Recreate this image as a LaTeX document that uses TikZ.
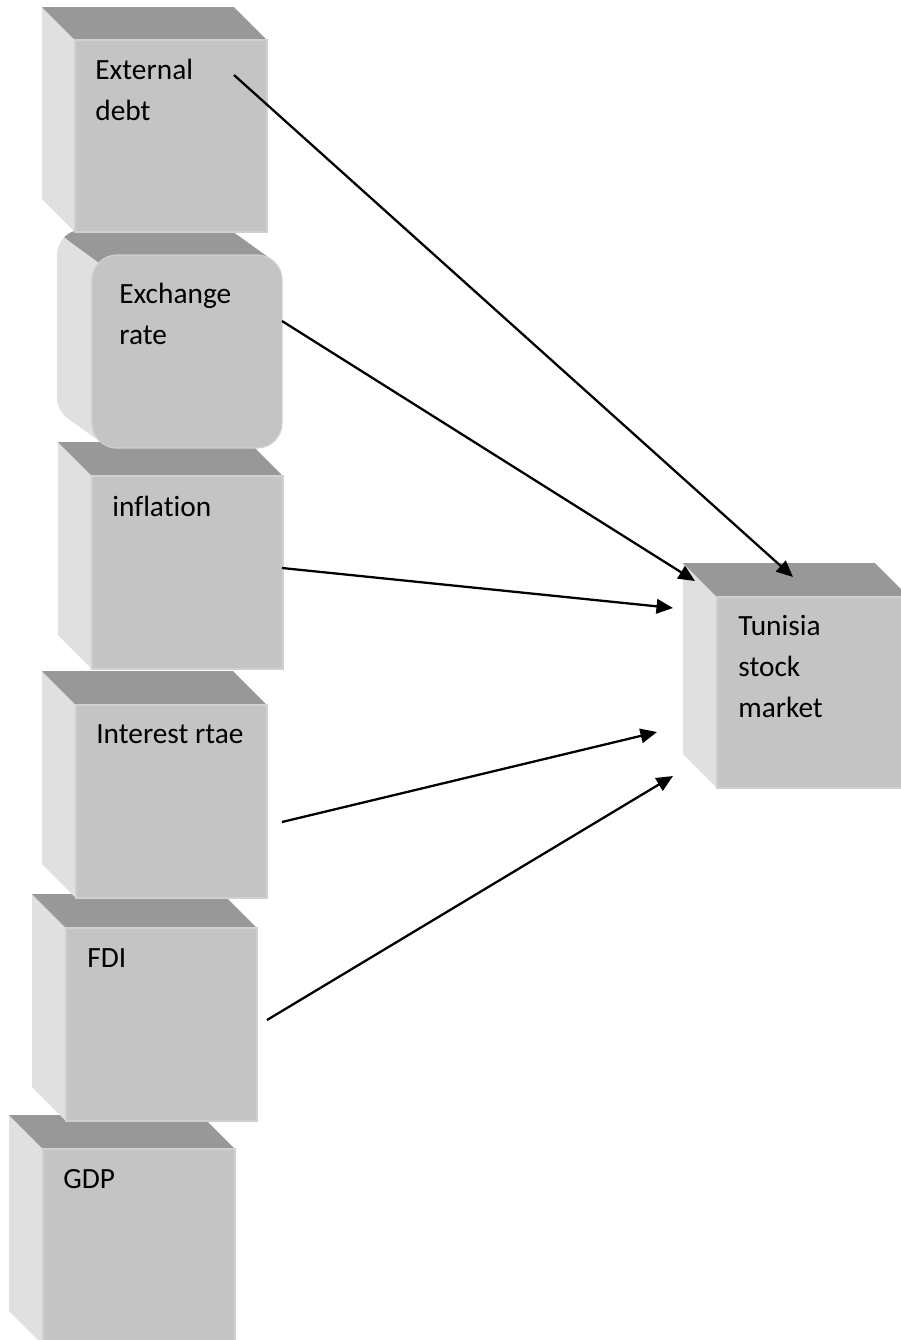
\documentclass[tikz,border=0pt]{standalone}
\usepackage{fontspec}
\setmainfont{Carlito}[Ligatures=NoCommon]
\usetikzlibrary{arrows.meta}
\definecolor{frente}{HTML}{C4C4C4}
\definecolor{tapa}{HTML}{989898}
\definecolor{lado}{HTML}{E0E0E0}
\definecolor{borde}{HTML}{D0D0D0}

\begin{document}
\begin{tikzpicture}[x=0.02cm, y=-0.02cm, >={Triangle[length=3.3mm, width=2.9mm]},
    cara/.style={fill=frente, draw=borde, line width=0.7pt},
    tapa3d/.style={fill=tapa},
    lado3d/.style={fill=lado},
    rotulo/.style={anchor=base west, inner sep=0pt, align=left,
        font=\fontsize{16.7}{23.2}\selectfont},
    flecha/.style={->, line width=1.3pt}]
    \useasboundingbox (0,0) rectangle (901,1340);
    \clip (0,0) rectangle (901,1340);

    % Cubos de la columna, de abajo hacia arriba
    % GDP
    \fill[lado3d] (43,1149) -- (9,1115) -- (9,1311) -- (43,1345) -- cycle;
    \fill[tapa3d] (43,1149) -- (9,1115) -- (201,1115) -- (235,1149) -- cycle;
    \filldraw[cara] (43,1149) rectangle (235,1345);
    \node[rotulo] (pib) at (63,1188) {GDP};

    % FDI
    \fill[lado3d] (66,928) -- (32,894) -- (32,1087) -- (66,1121) -- cycle;
    \fill[tapa3d] (66,928) -- (32,894) -- (223,894) -- (257,928) -- cycle;
    \filldraw[cara] (66,928) rectangle (257,1121);
    \node[rotulo] (ied) at (87,967) {FDI};

    % Interest
    \fill[lado3d] (76,705) -- (42,671) -- (42,864) -- (76,898) -- cycle;
    \fill[tapa3d] (76,705) -- (42,671) -- (233,671) -- (267,705) -- cycle;
    \filldraw[cara] (76,705) rectangle (267,898);
    \node[rotulo] (interes) at (96,743) {Interest rtae};

    % inflation
    \fill[lado3d] (92,476) -- (58,442) -- (58,635) -- (92,669) -- cycle;
    \fill[tapa3d] (92,476) -- (58,442) -- (249,442) -- (283,476) -- cycle;
    \filldraw[cara] (92,476) rectangle (283,669);
    \node[rotulo] (inflacion) at (112,516) {inflation};

    % Exchange rate (bloque redondeado)
    \foreach \i in {1,...,14}
        \fill[lado3d, rounded corners=0.5cm, shift={(-2.5*\i,-1.8*\i)}] (92,255) rectangle (282,448);
    \begin{scope}
        \clip (100,263) -- (57,232) -- (57,210) -- (300,210) -- (300,263) -- cycle;
        \foreach \i in {1,...,14}
            \fill[tapa3d, rounded corners=0.5cm, shift={(-2.5*\i,-1.8*\i)}] (92,255) rectangle (282,448);
    \end{scope}
    \filldraw[cara, rounded corners=0.5cm] (92,255) rectangle (282,448);
    \node[rotulo] (cambio) at (119,344) {Exchange\\rate};

    % External debt
    \fill[lado3d] (75,40) -- (42,7) -- (42,199) -- (75,232) -- cycle;
    \fill[tapa3d] (75,40) -- (42,7) -- (234,7) -- (267,40) -- cycle;
    \filldraw[cara] (75,40) rectangle (267,232);
    \node[rotulo] (deuda) at (95,120) {External\\debt};

    % Cubo del mercado
    \fill[lado3d] (717,597) -- (683,563) -- (683,754) -- (717,788) -- cycle;
    \fill[tapa3d] (717,597) -- (683,563) -- (875,563) -- (909,597) -- cycle;
    \filldraw[cara] (717,597) rectangle (909,788);
    \node[rotulo] (bolsa) at (738,717) {Tunisia\\stock\\market};

    % Puntos de salida y llegada
    \coordinate (deuda-sal) at (234,75);
    \coordinate (cambio-sal) at (282,321);
    \coordinate (inflacion-sal) at (282,568);
    \coordinate (interes-sal) at (282,822);
    \coordinate (ied-sal) at (267,1020);
    \coordinate (bolsa-e1) at (793,577);
    \coordinate (bolsa-e2) at (695,581);
    \coordinate (bolsa-e3) at (673,608);
    \coordinate (bolsa-e4) at (657,732);
    \coordinate (bolsa-e5) at (673,776);

    % Flechas
    \draw[flecha] (deuda-sal) -- (bolsa-e1);
    \draw[flecha] (cambio-sal) -- (bolsa-e2);
    \draw[flecha] (inflacion-sal) -- (bolsa-e3);
    \draw[flecha] (interes-sal) -- (bolsa-e4);
    \draw[flecha] (ied-sal) -- (bolsa-e5);
\end{tikzpicture}
\end{document}
